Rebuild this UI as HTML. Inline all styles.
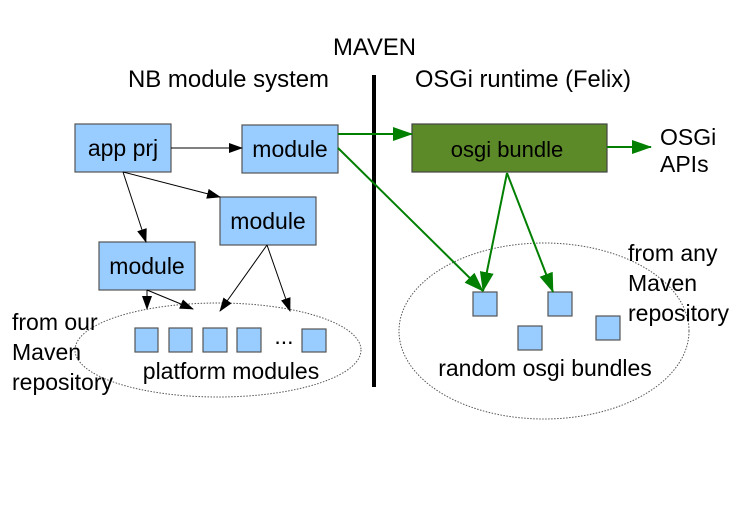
<!DOCTYPE html>
<html><head><style>html,body{margin:0;padding:0;background:#fff}</style></head><body>
<svg width="750" height="500" viewBox="0 0 750 500" xmlns="http://www.w3.org/2000/svg" font-family="Liberation Sans, sans-serif" font-size="23">
<defs>
<marker id="ab" markerWidth="14" markerHeight="10" refX="13" refY="5" orient="auto" markerUnits="userSpaceOnUse"><path d="M0,0 L14,5 L0,10 z" fill="#000"/></marker>
<marker id="ag" markerWidth="20" markerHeight="14" refX="19" refY="7" orient="auto" markerUnits="userSpaceOnUse"><path d="M0,0 L20,7 L0,14 z" fill="#007f00"/></marker>
</defs>
<text x="333" y="55" font-size="24" textLength="83" lengthAdjust="spacingAndGlyphs">MAVEN</text>
<text x="128" y="87" font-size="24" textLength="201" lengthAdjust="spacingAndGlyphs">NB module system</text>
<text x="415" y="87" font-size="24" textLength="216" lengthAdjust="spacingAndGlyphs">OSGi runtime (Felix)</text>
<line x1="374" y1="75" x2="374" y2="387" stroke="#000" stroke-width="4"/>
<ellipse cx="218" cy="350" rx="143" ry="47" fill="none" stroke="#555" stroke-width="1" stroke-dasharray="1.5,1.5"/>
<ellipse cx="544" cy="331" rx="145" ry="88" fill="none" stroke="#555" stroke-width="1" stroke-dasharray="1.5,1.5"/>
<g fill="#99ccff" stroke="#555" stroke-width="1.2">
<rect x="75" y="124" width="96" height="48"/>
<rect x="242" y="125" width="96" height="48"/>
<rect x="220" y="197" width="96" height="48"/>
<rect x="99" y="242" width="96" height="48"/>
<rect x="135" y="328" width="23" height="24"/>
<rect x="169" y="328" width="23" height="24"/>
<rect x="203" y="328" width="24" height="24"/>
<rect x="237" y="328" width="24" height="24"/>
<rect x="302" y="329" width="24" height="23"/>
<rect x="473" y="292" width="24" height="24"/>
<rect x="548" y="292" width="24" height="24"/>
<rect x="518" y="326" width="24" height="24"/>
<rect x="596" y="316" width="24" height="24"/>
</g>
<rect x="412" y="124" width="195" height="48" fill="#5c8a29" stroke="#444" stroke-width="1.2"/>
<g text-anchor="middle">
<text x="123" y="156">app prj</text>
<text x="290" y="157">module</text>
<text x="268" y="229">module</text>
<text x="147" y="274">module</text>
<text x="507" y="157" font-size="22">osgi bundle</text>
<text x="231" y="379">platform modules</text>
<text x="545" y="376">random osgi bundles</text>
<text x="284" y="344">...</text>
</g>
<text x="660" y="145">OSGi</text>
<text x="660" y="172">APIs</text>
<text x="12" y="330">from our</text>
<text x="12" y="360">Maven</text>
<text x="12" y="390">repository</text>
<text x="628" y="261">from any</text>
<text x="628" y="291">Maven</text>
<text x="628" y="321">repository</text>
<g stroke="#000" stroke-width="1" marker-end="url(#ab)">
<line x1="171" y1="148" x2="242" y2="148"/>
<line x1="123" y1="172" x2="146" y2="242"/>
<line x1="123" y1="172" x2="220" y2="197"/>
<line x1="147" y1="290" x2="147" y2="309"/>
<line x1="147" y1="290" x2="193" y2="309"/>
<line x1="267" y1="245" x2="220" y2="311"/>
<line x1="267" y1="245" x2="290" y2="311"/>
</g>
<g stroke="#007f00" stroke-width="2" marker-end="url(#ag)">
<line x1="338" y1="134" x2="412" y2="134"/>
<line x1="338" y1="148" x2="483" y2="291"/>
<line x1="507" y1="173" x2="483" y2="291"/>
<line x1="507" y1="173" x2="553" y2="292"/>
<line x1="607" y1="147" x2="651" y2="147"/>
</g>
</svg>
</body></html>
